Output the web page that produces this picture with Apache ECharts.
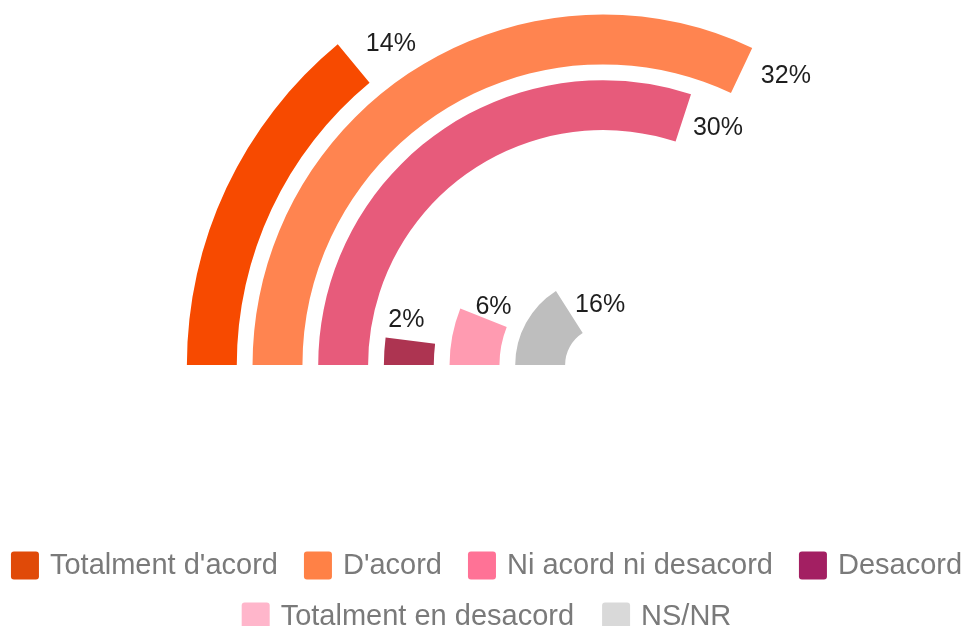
<!DOCTYPE html>
<html>
<head>
<meta charset="utf-8">
<script src="https://cdn.jsdelivr.net/npm/echarts@6/dist/echarts.min.js"></script>
<style>
	html, body { margin: 0; padding: 0; background: #fff; }
	#chart { width: 973px; height: 626px; }
</style>
</head>
<body>
<div id="chart"></div>
<script>
var categories = ["Totalment d'acord", "D'acord", 'Ni acord ni desacord', 'Desacord', 'Totalment en desacord', 'NS/NR'];
var values = [14, 32, 30, 2, 6, 16];
var barColors = ['#f74a00', '#ff8450', '#e75b7b', '#ad3451', '#ff9bb1', '#bebebe'];
var legendColors = ['#e04a08', '#ff8146', '#ff7296', '#a31f62', '#ffb6cb', '#d9d9d9'];

// small nudges so the value labels sit where the original puts them
var labelNudge = [[6, -14], [12, 2], [2, 8], [-23, -13], [-11, -3], [-1, -3]];

var series = [];
for (var i = 0; i < categories.length; i++) {
	var data = [];
	for (var j = 0; j < categories.length; j++) {
		data.push(i == j ? values[i] : '-');
	}
	series.push({
		name: categories[i],
		type: 'bar',
		coordinateSystem: 'polar',
		stack: 'all',
		barCategoryGap: '24%',
		itemStyle: { color: barColors[i] },
		label: {
			show: true,
			position: 'end',
			rotate: 0,
			distance: 8,
			offset: labelNudge[i],
			formatter: '{c}%',
			fontFamily: 'Liberation Sans',
			fontSize: 25,
			color: '#1e1e1e'
		},
		data: data
	});
}

function legendItems(from, to) {
	var items = [];
	for (var i = from; i < to; i++) {
		items.push({ name: categories[i], itemStyle: { color: legendColors[i] } });
	}
	return items;
}

var legendIcon = 'path://M3,0H25Q28,0,28,3V25Q28,28,25,28H3Q0,28,0,25V3Q0,0,3,0Z';
var legendText = { fontFamily: 'Liberation Sans', fontSize: 29, color: '#7a7a7a', padding: [0, 0, 0, 6] };

var chart = echarts.init(document.getElementById('chart'));
chart.setOption({
	animation: false,
	polar: {
		center: [603, 365],
		radius: [30, 424]
	},
	angleAxis: {
		type: 'value',
		min: 0,
		max: 100,
		startAngle: 180,
		show: false
	},
	radiusAxis: {
		type: 'category',
		data: categories,
		inverse: true,
		show: false
	},
	legend: [{
		data: legendItems(0, 4),
		top: 546,
		left: 'center',
		icon: legendIcon,
		itemWidth: 28,
		itemHeight: 28,
		itemGap: 26,
		textStyle: legendText
	}, {
		data: legendItems(4, 6),
		top: 597,
		left: 'center',
		icon: legendIcon,
		itemWidth: 28,
		itemHeight: 28,
		itemGap: 28,
		textStyle: legendText
	}],
	series: series
});
</script>
</body>
</html>
